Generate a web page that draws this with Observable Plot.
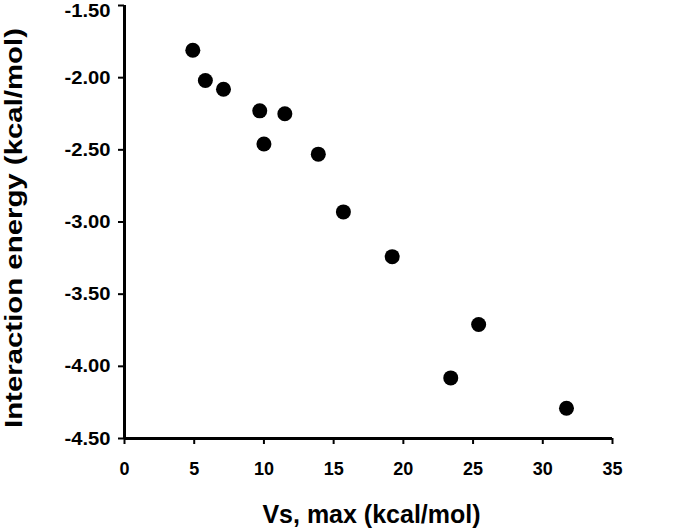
<!DOCTYPE html>
<html><head><meta charset="utf-8">
<script src="https://cdn.jsdelivr.net/npm/d3@7"></script>
<script src="https://cdn.jsdelivr.net/npm/@observablehq/plot@0.6"></script>
<style>body{margin:0;background:#fff}</style>
</head><body><div id="chart"></div>
<script>
const vsMax  = [4.9, 5.8, 7.1, 9.7, 11.5, 10.0, 13.9, 15.7, 19.2, 25.4, 23.4, 31.7];
const energy = [-1.81, -2.02, -2.08, -2.23, -2.25, -2.46, -2.53, -2.93, -3.24, -3.71, -4.08, -4.29];
const xTicks = [0, 5, 10, 15, 20, 25, 30, 35];
const yTicks = [-4.5, -4, -3.5, -3, -2.5, -2, -1.5];
const xLabel = "Vs, max (kcal/mol)";
const yLabel = "Interaction energy (kcal/mol)";

const data = vsMax.map((v, i) => ({x: v, y: energy[i]}));
const font = "'Liberation Sans', Arial, sans-serif";
const yFmt = d => d.toFixed(2);

const chart = Plot.plot({
  width: 678,
  height: 531,
  marginLeft: 124,
  marginRight: 66,
  marginTop: 5,
  marginBottom: 93,
  style: {fontFamily: font, background: "#fff", color: "#000"},
  x: {domain: [0, 35]},
  y: {domain: [-4.5, -1.5]},
  marks: [
    Plot.axisX({ticks: xTicks, tickSize: 6, tickPadding: 18, fontSize: 18, fontWeight: "bold", strokeWidth: 2, label: null, tickFormat: d => String(d)}),
    Plot.axisY({ticks: yTicks, tickSize: 6, tickPadding: 8, fontSize: 19, fontWeight: "bold", strokeWidth: 2, label: null, tickFormat: yFmt}),
    Plot.ruleX([0], {stroke: "#000", strokeWidth: 3}),
    Plot.ruleY([-4.5], {stroke: "#000", strokeWidth: 3}),
    Plot.dot(data, {x: "x", y: "y", r: 7.5, fill: "#000", stroke: "none"}),
    Plot.text([xLabel], {frameAnchor: "bottom", dx: 3, dy: 84, fontSize: 25, fontWeight: "bold", fill: "#000"}),
    Plot.text([yLabel], {frameAnchor: "left", textAnchor: "middle", dx: -110, dy: 6, rotate: -90, fontSize: 23, fontWeight: "bold", fill: "#000"})
  ]
});
document.getElementById("chart").appendChild(chart);
const svg = d3.select(chart);
const yTickTexts = new Set(yTicks.map(yFmt));
svg.selectAll("text").each(function () {
  const t = d3.select(this);
  const s = this.textContent;
  if (s === yLabel) {
    t.attr("textLength", 400).attr("lengthAdjust", "spacingAndGlyphs");
  } else if (yTickTexts.has(s)) {
    t.attr("textLength", 46).attr("lengthAdjust", "spacingAndGlyphs");
    if (s === yFmt(-1.5)) t.attr("dy", 5);
  }
});
</script>
</body></html>
